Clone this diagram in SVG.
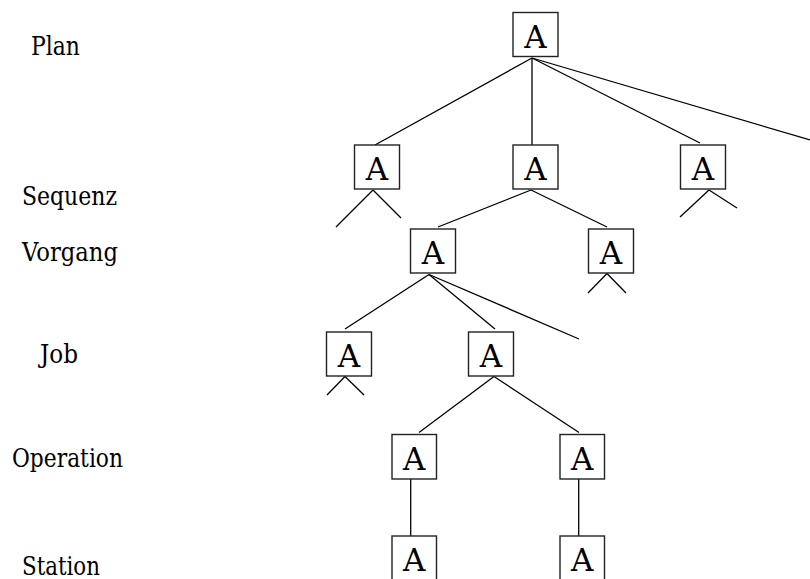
<svg xmlns="http://www.w3.org/2000/svg" width="810" height="579" viewBox="0 0 810 579">
<style>
text{font-family:'DejaVu Serif',serif}
.box{fill:#fff;stroke:#222;stroke-width:1.4}
.a{font-size:31px;text-anchor:middle;fill:#000}
.lbl{font-size:25.5px;fill:#000}
.c line{stroke:#000;stroke-width:1.3}
</style>
<rect width="810" height="579" fill="#fff"/>
<g id="labels">
<text class="lbl" x="31" y="55" textLength="49" lengthAdjust="spacingAndGlyphs">Plan</text>
<text class="lbl" x="22" y="205" textLength="95" lengthAdjust="spacingAndGlyphs">Sequenz</text>
<text class="lbl" x="22" y="261" textLength="96" lengthAdjust="spacingAndGlyphs">Vorgang</text>
<text class="lbl" x="40" y="363" textLength="38" lengthAdjust="spacingAndGlyphs">Job</text>
<text class="lbl" x="12" y="467" textLength="111" lengthAdjust="spacingAndGlyphs">Operation</text>
<text class="lbl" x="22" y="575" textLength="78" lengthAdjust="spacingAndGlyphs">Station</text>
</g>
<g id="connectors" class="c">
<line x1="532" y1="58" x2="375" y2="145"/>
<line x1="532" y1="58" x2="532" y2="145"/>
<line x1="532" y1="58" x2="700" y2="143"/>
<line x1="532" y1="58" x2="810" y2="140"/>
<line x1="373" y1="190" x2="336" y2="227"/>
<line x1="373" y1="190" x2="401" y2="218"/>
<line x1="531" y1="190" x2="438" y2="227"/>
<line x1="531" y1="190" x2="607" y2="227"/>
<line x1="709" y1="190" x2="680" y2="217"/>
<line x1="709" y1="190" x2="737" y2="208"/>
<line x1="429" y1="274.5" x2="345" y2="329"/>
<line x1="429" y1="274.5" x2="495" y2="329"/>
<line x1="429" y1="274.5" x2="579" y2="339"/>
<line x1="607" y1="273.5" x2="588" y2="293"/>
<line x1="607" y1="273.5" x2="626" y2="293"/>
<line x1="345" y1="376.5" x2="327" y2="395"/>
<line x1="345" y1="376.5" x2="364" y2="395"/>
<line x1="494" y1="376.5" x2="419" y2="432.5"/>
<line x1="494" y1="376.5" x2="579" y2="432.5"/>
<line x1="410.7" y1="479" x2="410.7" y2="536"/>
<line x1="578.7" y1="479" x2="578.7" y2="536"/>
</g>
<g id="plan"><rect class="box" x="513" y="12.5" width="45" height="44"/><text class="a" x="535.5" y="47.5">A</text></g>
<g id="seq1"><rect class="box" x="354.5" y="145" width="45" height="44"/><text class="a" x="377" y="180">A</text></g>
<g id="seq2"><rect class="box" x="513" y="145" width="45" height="44"/><text class="a" x="535.5" y="180">A</text></g>
<g id="seq3"><rect class="box" x="680.5" y="145" width="45" height="44"/><text class="a" x="703" y="180">A</text></g>
<g id="vorg1"><rect class="box" x="410.5" y="229" width="45" height="44"/><text class="a" x="433" y="264">A</text></g>
<g id="vorg2"><rect class="box" x="588.5" y="229" width="45" height="44"/><text class="a" x="611" y="264">A</text></g>
<g id="job1"><rect class="box" x="326.5" y="332" width="45" height="44"/><text class="a" x="349" y="367">A</text></g>
<g id="job2"><rect class="box" x="468.5" y="332" width="45" height="44"/><text class="a" x="491" y="367">A</text></g>
<g id="op1"><rect class="box" x="392" y="434.5" width="44.5" height="44.5"/><text class="a" x="414.2" y="469.5">A</text></g>
<g id="op2"><rect class="box" x="560" y="434.5" width="44.5" height="44.5"/><text class="a" x="582.2" y="469.5">A</text></g>
<g id="st1"><rect class="box" x="392" y="536" width="44.5" height="46"/><text class="a" x="414.2" y="571">A</text></g>
<g id="st2"><rect class="box" x="560" y="536" width="44.5" height="46"/><text class="a" x="582.2" y="571">A</text></g>
</svg>
